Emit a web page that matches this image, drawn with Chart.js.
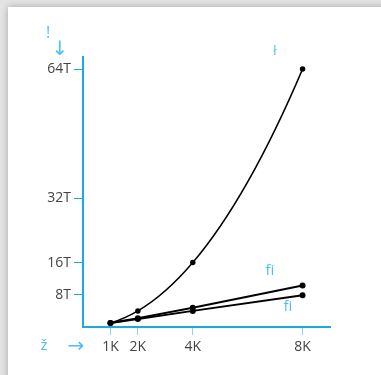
<!DOCTYPE html>
<html>
<head>
<meta charset="utf-8">
<script src="https://cdn.jsdelivr.net/npm/chart.js@4"></script>
<style>
  html, body { margin:0; padding:0; width:381px; height:375px; overflow:hidden; background:#e4e4e4; }
  #card { position:absolute; left:8px; top:7px; width:420px; height:420px; background:#fff; box-shadow:0 0 7px rgba(0,0,0,0.28); }
  #c { position:absolute; left:0; top:0; }
</style>
</head>
<body>
<div id="card"></div>
<canvas id="c" width="381" height="375"></canvas>
<script>
// ---- data ----
const categories = [1, 2, 4, 8];            // input size, in K
const xTickLabels = ['1K', '2K', '4K', '8K'];
const yTickValues = [8, 16, 32, 64];         // in T
const yTickLabels = ['8T', '16T', '32T', '64T'];
const seriesQuadratic = [1, 4, 16, 64];
const seriesNLogN = [1, 2.2, 4.8, 10.3];
const seriesLinear = [1, 2, 4, 7.9];

const AXIS = '#1fa8e0';
const LABEL_BLUE = '#4dc0f2';
const TICK_TEXT = '#444444';

const toPoints = (vals) => categories.map((x, i) => ({ x: x, y: vals[i] }));

// Smooth curve: Hermite tangents from local quadratic fits (non-uniform spacing)
const smoothCurve = {
  id: 'smoothCurve',
  beforeDatasetDraw(chart, args) {
    if (args.index !== 0) return;
    const line = args.meta.dataset;
    line.updateControlPoints(chart.chartArea, 'x');
    const p = args.meta.data;
    const n = p.length;
    const m = new Array(n);
    const slope = (a, b) => (p[b].y - p[a].y) / (p[b].x - p[a].x);
    for (let i = 0; i < n; i++) {
      if (i > 0 && i < n - 1) {
        const h1 = p[i].x - p[i-1].x, h2 = p[i+1].x - p[i].x;
        m[i] = (h2 * slope(i-1, i) + h1 * slope(i, i+1)) / (h1 + h2);
      } else if (i === 0) {
        const h1 = p[1].x - p[0].x, h2 = p[2].x - p[1].x;
        const s1 = slope(0, 1), s2 = slope(1, 2), c = (s2 - s1) / (h1 + h2);
        m[i] = s1 - c * h1;
      } else {
        const h1 = p[n-2].x - p[n-3].x, h2 = p[n-1].x - p[n-2].x;
        const s1 = slope(n-3, n-2), s2 = slope(n-2, n-1), c = (s2 - s1) / (h1 + h2);
        m[i] = s2 + c * h2;
      }
    }
    for (let i = 0; i < n; i++) {
      if (i > 0) {
        const h = (p[i].x - p[i-1].x) / 3;
        p[i].cp1x = p[i].x - h; p[i].cp1y = p[i].y - m[i] * h;
      }
      if (i < n - 1) {
        const h = (p[i+1].x - p[i].x) / 3;
        p[i].cp2x = p[i].x + h; p[i].cp2y = p[i].y + m[i] * h;
      }
    }
  }
};

const annotations = {
  id: 'annotations',
  afterDraw(chart) {
    const ctx = chart.ctx;
    ctx.save();
    ctx.fillStyle = LABEL_BLUE;
    ctx.textAlign = 'center';
    ctx.textBaseline = 'middle';
    ctx.font = '16px "Open Sans"';
    ctx.fillText('!', 48, 33);
    ctx.font = '15px "Open Sans"';
    ctx.fillText('ž', 44, 346);
    ctx.fillText('ﬁ', 270, 271);
    ctx.fillText('ﬁ', 288, 307);
    ctx.font = '13px "Open Sans"';
    ctx.fillText('ł', 275, 51);
    ctx.font = '20px "DejaVu Sans"';
    ctx.fillText('↓', 60, 50);
    ctx.fillText('→', 76, 347);
    ctx.restore();
  }
};

new Chart(document.getElementById('c'), {
  type: 'line',
  data: {
    datasets: [
      { data: toPoints(seriesQuadratic), borderColor: '#000', backgroundColor: '#000', borderWidth: 1.5,
        pointRadius: 2, pointBackgroundColor: '#000', tension: 0.4 },
      { data: toPoints(seriesNLogN), borderColor: '#000', backgroundColor: '#000', borderWidth: 2,
        pointRadius: 2, pointBackgroundColor: '#000', tension: 0 },
      { data: toPoints(seriesLinear), borderColor: '#000', backgroundColor: '#000', borderWidth: 2,
        pointRadius: 2, pointBackgroundColor: '#000', tension: 0 }
    ]
  },
  options: {
    responsive: false,
    animation: false,
    devicePixelRatio: 1,
    layout: { padding: { left: 43, top: 57, right: 51, bottom: 18 } },
    plugins: { legend: { display: false }, tooltip: { enabled: false } },
    scales: {
      x: {
        type: 'linear', min: 0, max: 9,
        afterFit(s) { s.height = 30; },
        afterBuildTicks(s) { s.ticks = categories.map(v => ({ value: v })); },
        ticks: { autoSkip: false, maxRotation: 0, padding: 4, color: TICK_TEXT,
          font: { family: 'Open Sans', size: 14 },
          callback: (v) => xTickLabels[categories.indexOf(v)] },
        grid: { drawOnChartArea: false, drawTicks: true, tickLength: 8, color: '#8fd2f0', tickColor: '#8fd2f0', lineWidth: 1 },
        border: { display: true, color: AXIS, width: 2 }
      },
      y: {
        type: 'linear', min: 0, max: 67,
        afterFit(s) { s.width = 40; },
        afterBuildTicks(s) { s.ticks = yTickValues.map(v => ({ value: v })); },
        ticks: { autoSkip: false, padding: 3, color: TICK_TEXT,
          font: { family: 'Open Sans', size: 14 },
          callback: (v) => yTickLabels[yTickValues.indexOf(v)] },
        grid: { drawOnChartArea: false, drawTicks: true, tickLength: 9, color: AXIS, tickColor: AXIS, lineWidth: 1 },
        border: { display: true, color: AXIS, width: 2 }
      }
    }
  },
  plugins: [smoothCurve, annotations]
});
</script>
</body>
</html>
